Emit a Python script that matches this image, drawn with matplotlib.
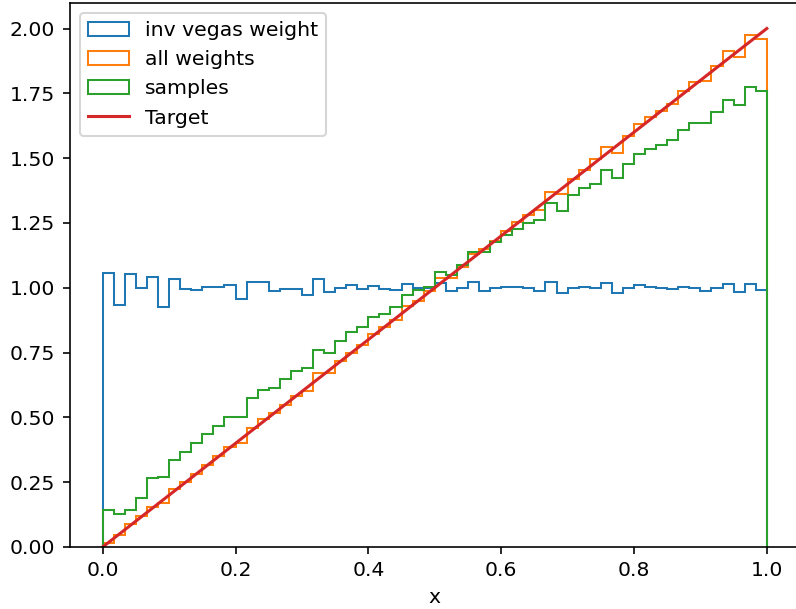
import numpy as np
import matplotlib
matplotlib.use("Agg")
import matplotlib.pyplot as plt

n_bins = 60
bin_edges = np.linspace(0.0, 1.0, n_bins + 1)

inv_vegas_weight = [
    1.058, 0.932, 1.054, 0.999, 1.040, 0.924, 1.035, 0.996, 0.990, 1.003,
    1.004, 1.010, 0.956, 1.023, 1.023, 0.988, 0.996, 0.996, 0.973, 1.032,
    0.983, 0.999, 1.009, 0.995, 1.008, 0.995, 0.990, 1.013, 1.001, 1.000,
    1.018, 0.988, 0.999, 1.021, 0.988, 1.001, 1.004, 1.004, 0.999, 0.988,
    1.021, 0.978, 0.999, 1.003, 0.999, 1.017, 0.978, 1.001, 1.010, 1.004,
    0.999, 0.995, 1.003, 1.001, 0.988, 1.001, 1.014, 0.985, 1.014, 0.990,
]

all_weights = [
    0.017, 0.048, 0.088, 0.119, 0.156, 0.171, 0.224, 0.252, 0.281, 0.317,
    0.351, 0.387, 0.400, 0.460, 0.493, 0.516, 0.548, 0.583, 0.602, 0.670,
    0.670, 0.716, 0.750, 0.780, 0.822, 0.847, 0.876, 0.928, 0.950, 0.986,
    1.037, 1.037, 1.082, 1.130, 1.150, 1.181, 1.220, 1.254, 1.282, 1.301,
    1.370, 1.360, 1.421, 1.456, 1.498, 1.542, 1.520, 1.587, 1.633, 1.658,
    1.681, 1.710, 1.758, 1.793, 1.797, 1.855, 1.912, 1.889, 1.974, 1.961,
]

samples = [
    0.143, 0.126, 0.143, 0.190, 0.268, 0.271, 0.336, 0.368, 0.400, 0.436,
    0.468, 0.503, 0.503, 0.573, 0.606, 0.613, 0.647, 0.677, 0.692, 0.761,
    0.750, 0.793, 0.831, 0.848, 0.887, 0.900, 0.924, 0.973, 0.992, 1.003,
    1.061, 1.048, 1.089, 1.138, 1.138, 1.175, 1.205, 1.228, 1.250, 1.263,
    1.327, 1.297, 1.357, 1.385, 1.402, 1.453, 1.423, 1.479, 1.517, 1.535,
    1.552, 1.570, 1.610, 1.635, 1.635, 1.678, 1.726, 1.704, 1.775, 1.758,
]

target_x = [0.0, 1.0]
target_y = [0.0, 2.0]

labels = ["inv vegas weight", "all weights", "samples", "Target"]

W, H = 796, 609
DPI = 147
fig = plt.figure(figsize=(W / DPI, H / DPI), dpi=DPI)
left_px, right_px, top_px, bottom_px = 69.5, 800, 2.6, 547
ax = fig.add_axes([left_px / W, (H - bottom_px) / H,
                   (right_px - left_px) / W, (bottom_px - top_px) / H])

centers = 0.5 * (bin_edges[:-1] + bin_edges[1:])
ax.hist(centers, bins=bin_edges, weights=inv_vegas_weight, histtype="step",
        label=labels[0], color="C0")
ax.hist(centers, bins=bin_edges, weights=all_weights, histtype="step",
        label=labels[1], color="C1")
ax.hist(centers, bins=bin_edges, weights=samples, histtype="step",
        label=labels[2], color="C2")
ax.plot(target_x, target_y, color="C3", label=labels[3])

ax.set_xlim(-0.05, 1.05)
ax.set_ylim(0, 2.1)
ax.set_xlabel("x")
ax.legend(loc="upper left")

fig.savefig("out.png", dpi=DPI)
